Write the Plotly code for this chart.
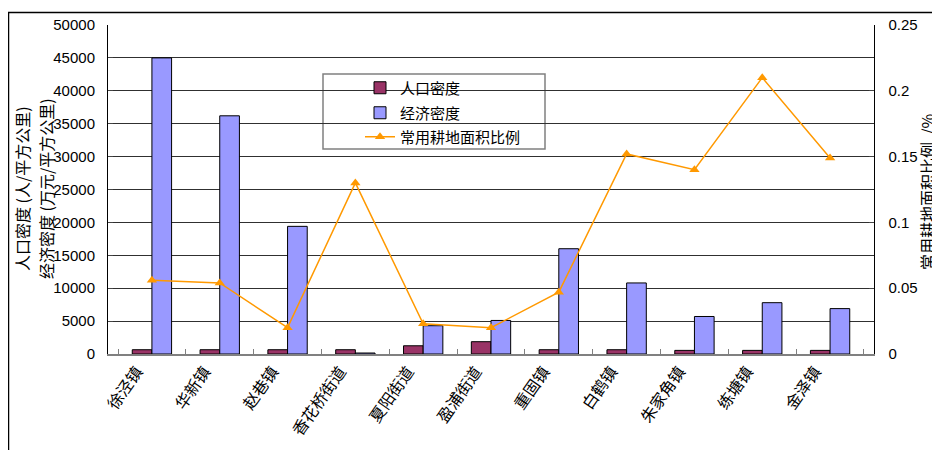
import plotly.graph_objects as go

categories = ["徐泾镇", "华新镇", "赵巷镇", "香花桥街道", "夏阳街道", "盈浦街道",
              "重固镇", "白鹤镇", "朱家角镇", "练塘镇", "金泽镇"]
pop_density = [650, 650, 650, 650, 1250, 1870, 650, 650, 550, 550, 550]
econ_density = [45000, 36200, 19400, 150, 4300, 5100, 16000, 10800, 5700, 7800, 6900]
farmland_ratio = [0.056, 0.054, 0.020, 0.130, 0.023, 0.020, 0.047, 0.152, 0.140, 0.210, 0.149]

FONT = "Noto Sans CJK SC"
OFF = 8  # page body margin
W, H = 940, 450
# plot area in screen pixels: x 108..874, y 25..354
SX0, SX1, SY0, SY1 = 108, 874, 25, 354
L, T = SX0 - OFF, SY0 - OFF
R, B = W - (SX1 - OFF), H - (SY1 - OFF)
PW, PH = SX1 - SX0, SY1 - SY0


def px(x):
    return (x - SX0) / PW


def py(y):
    return (SY1 - y) / PH


fig = go.Figure()
fig.add_trace(go.Bar(x=categories, y=pop_density, name="人口密度", legend="legend",
                     marker=dict(color="#993366", line=dict(color="#000000", width=1))))
fig.add_trace(go.Bar(x=categories, y=econ_density, name="经济密度", legend="legend2",
                     marker=dict(color="#9999FF", line=dict(color="#000000", width=1))))
fig.add_trace(go.Scatter(x=categories, y=farmland_ratio, name="常用耕地面积比例",
                         yaxis="y2", mode="lines+markers", legend="legend3",
                         line=dict(color="#FF9900", width=1.5),
                         marker=dict(symbol="triangle-up", size=9, color="#FF9900")))

leg_common = dict(xanchor="left", yanchor="middle", bgcolor="rgba(0,0,0,0)",
                  borderwidth=0, font=dict(family=FONT, size=15))

fig.update_layout(
    width=W, height=H,
    margin=dict(l=L, r=R, t=T, b=B, autoexpand=False),
    paper_bgcolor="white", plot_bgcolor="white",
    barmode="group", bargap=0.42, bargroupgap=0,
    font=dict(family=FONT, color="#000000"),
    xaxis=dict(type="category", showline=True, linecolor="#808080", linewidth=1.5,
               ticks="inside", tickson="boundaries", ticklen=5, tickcolor="#808080",
               tickangle=-55, tickfont=dict(family=FONT, size=16), showgrid=False,
               ticklabelshift=-15, automargin=False),
    yaxis=dict(range=[0, 50000], dtick=5000, tickformat="d", showline=True,
               linecolor="#000000", linewidth=1, ticks="inside", ticklen=5,
               tickfont=dict(family="Liberation Sans", size=15), automargin=False,
               ticklabelstandoff=9,
               showgrid=True, gridcolor="#303030", gridwidth=1, zeroline=False),
    yaxis2=dict(range=[0, 0.25], dtick=0.05, overlaying="y", side="right",
                showline=True, linecolor="#000000", linewidth=1, ticks="inside",
                ticklen=5, showgrid=False, zeroline=False, automargin=False,
                tickprefix="\u2002\u2009",
                tickfont=dict(family="Liberation Sans", size=15)),
    showlegend=True,
    legend=dict(x=px(360), y=py(88), **leg_common),
    legend2=dict(x=px(360), y=py(113), **leg_common),
    legend3=dict(x=px(360), y=py(137), **leg_common),
    shapes=[
        dict(type="rect", xref="paper", yref="paper",
             x0=px(323), x1=px(545), y0=py(149), y1=py(74),
             line=dict(color="#808080", width=1.5), fillcolor="white", layer="below"),
        dict(type="rect", xref="paper", yref="paper",
             x0=px(8.5), x1=px(970), y0=py(480), y1=py(12.5),
             line=dict(color="#000000", width=1.5), layer="below"),
    ],
    annotations=[
        dict(text="人口密度 (人/平方公里)", xref="paper", yref="paper",
             x=px(22), y=py(189), textangle=-90, showarrow=False,
             xanchor="center", yanchor="middle",
             font=dict(family=FONT, size=16)),
        dict(text="经济密度 (万元/平方公里)", xref="paper", yref="paper",
             x=px(46), y=py(189), textangle=-90, showarrow=False,
             xanchor="center", yanchor="middle",
             font=dict(family=FONT, size=16)),
        dict(text="常用耕地面积比例  /%", xref="paper", yref="paper",
             x=px(927), y=py(192), textangle=-90, showarrow=False,
             xanchor="center", yanchor="middle",
             font=dict(family=FONT, size=16)),
    ],
)

fig.write_html("out.html")
